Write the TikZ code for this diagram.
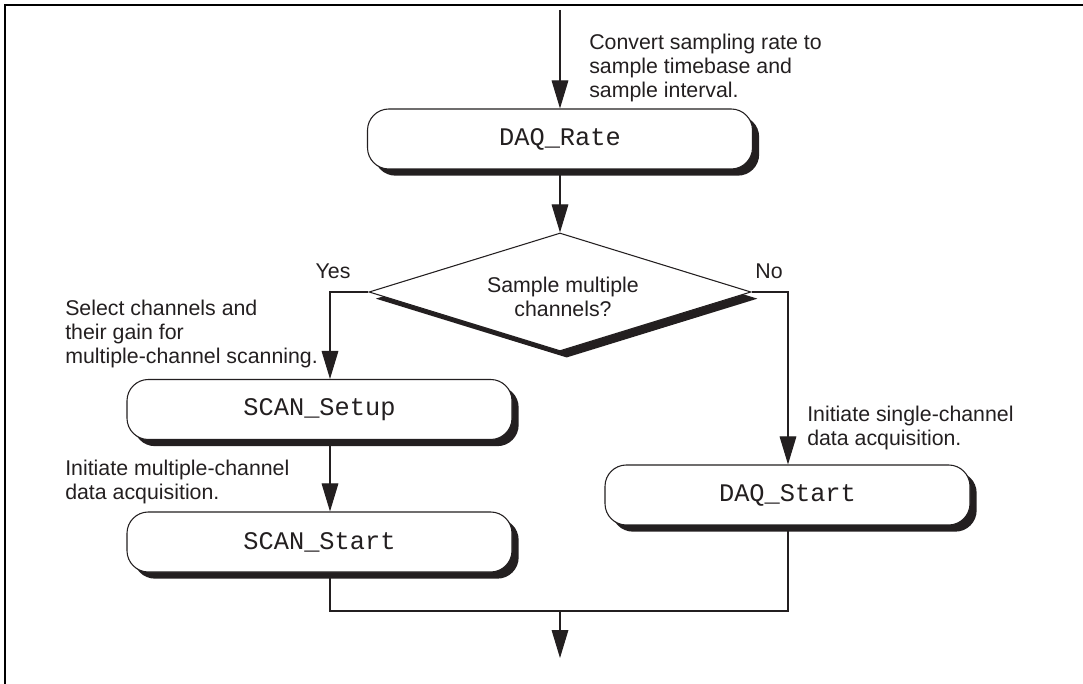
\documentclass[tikz,border=0pt]{standalone}
\usepackage{fontspec}
\setmainfont{Liberation Sans}
\setmonofont{Liberation Mono}
\usetikzlibrary{shapes.geometric,shadows,arrows.meta}
\definecolor{ink}{HTML}{231F20}
\begin{document}
\begin{tikzpicture}[x=0.75pt,y=-0.75pt,
  every node/.style={text=ink},
  shad/.style={drop shadow={opacity=1,fill=ink,shadow xshift=5pt,shadow yshift=-5pt}},
  proc/.style={draw=ink,line width=0.8pt,fill=white,rounded corners=16pt,
     minimum width=288.75pt,minimum height=45pt,inner sep=0pt,
     font=\fontsize{19}{22}\ttfamily,shad},
  dec/.style={diamond,draw=ink,line width=0.8pt,fill=white,aspect=3.24,
     minimum width=286.5pt,minimum height=88.5pt,inner sep=0pt,shad},
  txt/.style={font=\fontsize{16}{18}\selectfont},
  lbl/.style={txt,align=left,inner sep=0pt,anchor=north west},
  conn/.style={draw=ink,line width=0.8pt},
  arr/.style={conn,-{Triangle[length=21pt,width=12.5pt]}}
]
\useasboundingbox (0,0) rectangle (1083,684);
% frame
\draw[line width=1.6pt,black] (5,684) -- (5,5) -- (1083,5);

% nodes
\node[proc] (rate) at (560,139) {DAQ\_Rate};
\node[dec] (d) at (560,292) {};
\node[txt,align=center] (q) at (563,297) {Sample multiple\\channels?};
\node[proc] (ss) at (319.5,409.5) {SCAN\_Setup};
\node[proc] (st) at (319.5,542) {SCAN\_Start};
\node[proc,minimum width=273.75pt] (ds) at (787.5,495) {DAQ\_Start};

% labels
\node[lbl] (t1) at (589,34) {Convert sampling rate to\\sample timebase and\\sample interval.};
\node[lbl] (t2) at (65,300) {Select channels and\\their gain for\\multiple-channel scanning.};
\node[lbl] (t3) at (65,460) {Initiate multiple-channel\\data acquisition.};
\node[lbl] (t4) at (807,406) {Initiate single-channel\\data acquisition.};
\node[txt] (yes) at (333,271) {Yes};
\node[txt] (no) at (769,271) {No};

% coordinates
\coordinate (start) at (560,10);
\coordinate (yb) at (330,292);
\coordinate (nb) at (788,292);
\coordinate (jl) at (330,611);
\coordinate (jr) at (788,611);
\coordinate (jm) at (560,611);
\coordinate (end) at (560,658);

% connectors
\draw[arr] (start) -- (rate.north);
\draw[arr] (rate.south) -- (d.north);
\draw[arr] (d.west) -- (yb) -- (yb |- ss.north);
\draw[arr] (d.east) -- (nb) -- (nb |- ds.north);
\draw[arr] (ss.south -| yb) -- (st.north -| yb);
\draw[conn] (st.south -| yb) -- (jl) -- (jr) -- (ds.south -| nb);
\draw[arr] (jm) -- (end);
\end{tikzpicture}
\end{document}
